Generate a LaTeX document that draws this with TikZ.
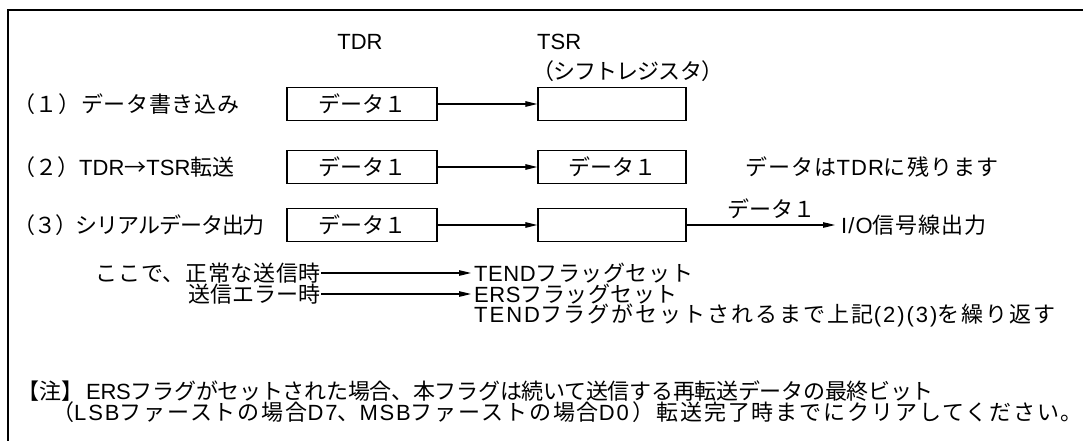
\documentclass[tikz,border=0pt]{standalone}
\usepackage{fontspec}
\setmainfont{Noto Sans CJK JP}
\newfontfamily\latfam{Liberation Sans}
\newcommand\lsv{0}
\newcommand\lat[1]{{\latfam\addfontfeature{LetterSpace=\lsv}#1}}
\usetikzlibrary{arrows.meta}
\begin{document}
\begin{tikzpicture}[x=1pt,y=-1pt,
  txt/.style={inner sep=0pt, font=\fontsize{22}{22}\selectfont},
  sp/.style={inner sep=0pt, font=\fontsize{22}{22}\selectfont\def\lsv{#1}\addfontfeature{LetterSpace=#1}},
  regbox/.style={draw, line width=1.4pt, minimum width=150pt, minimum height=33pt, inner sep=0pt, font=\fontsize{22}{22}\selectfont},
  arr/.style={line width=1.2pt, -{Triangle[length=12pt,width=5.5pt]}}]
\useasboundingbox (0,0) rectangle (1083,441);
\draw[line width=2.4pt] (1083,10) -- (8,10) -- (8,441);
% headers
\node[txt] (tdrlab) at (360,42) {\lat{TDR}};
\node[txt,anchor=west] (tsrlab) at (537,42) {\lat{TSR}};
\node[sp=-4,anchor=west] (tsrsub) at (532,71) {（シフトレジスタ）};
% row labels
\node[sp=3,anchor=west] (l1) at (13,104) {（１）データ書き込み};
\node[sp=0,anchor=west] (l2) at (13,167) {（２）\lat{TDR}→\lat{TSR}転送};
\node[sp=-5,anchor=west] (l3) at (13,225) {（３）シリアルデータ出力};
% registers
\node[regbox] (d1) at (362,104) {データ１};
\node[regbox,minimum width=148pt] (s1) at (612,104) {};
\node[regbox] (d2) at (362,167) {データ１};
\node[regbox,minimum width=148pt] (s2) at (612,167) {データ１};
\node[regbox] (d3) at (362,225) {データ１};
\node[regbox,minimum width=148pt] (s3) at (612,225) {};
\draw[arr] (d1) -- (s1);
\draw[arr] (d2) -- (s2);
\draw[arr] (d3) -- (s3);
\node[sp=5,anchor=west] (remain) at (745,167) {データは\lat{TDR}に残ります};
\coordinate (io) at (835,225);
\draw[arr] (s3.east) -- (io);
\node[txt] (dlab) at (771,209) {データ１};
\node[sp=4.8,anchor=west] (ioout) at (841,225) {\lat{I/O}信号線出力};
% flags
\node[sp=3,anchor=east] (normal) at (321,273) {ここで、正常な送信時};
\node[sp=0,anchor=east] (err) at (321,294) {送信エラー時};
\node[sp=2.5,anchor=west] (tend) at (474,273) {\lat{TEND}フラッグセット};
\node[sp=2.5,anchor=west] (ers) at (474,294) {\lat{ERS}フラッグセット};
\node[sp=9,anchor=west] (rep) at (474,315) {\lat{TEND}フラグがセットされるまで上記\lat{(2)(3)}を繰り返す};
\draw[arr,shorten >=3pt] (normal) -- (tend);
\draw[arr,shorten >=3pt] (err) -- (ers);
% note
\node[txt,anchor=west] (note) at (17,391) {【注】};
\node[sp=-1.3,anchor=west] (n1) at (86,391) {\lat{ERS}フラグがセットされた場合、本フラグは続いて送信する再転送データの最終ビット};
\node[sp=8.5,anchor=west] (n2) at (52,412) {（\lat{LSB}ファーストの場合\lat{D7}、\lat{MSB}ファーストの場合\lat{D0}\,）転送完了時までにクリアしてください。};
\end{tikzpicture}
\end{document}
